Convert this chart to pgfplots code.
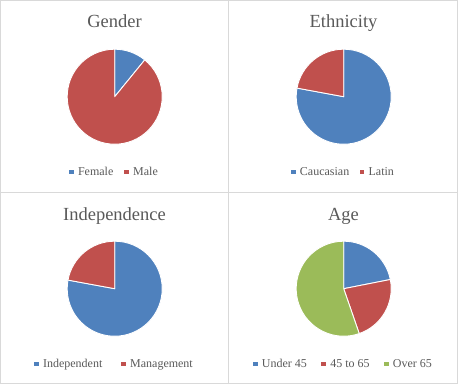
\documentclass[border=0pt]{standalone}
\usepackage{pgfplots}
\pgfplotsset{compat=1.18}
\usepackage{fontspec}
\setmainfont{Liberation Serif}
\definecolor{pieblue}{HTML}{4F81BD}
\definecolor{piered}{HTML}{C0504D}
\definecolor{piegreen}{HTML}{9BBB59}
\definecolor{txtgray}{HTML}{595959}
\definecolor{framegray}{HTML}{D9D9D9}
\def\pierad{47.5pt}
\pgfdeclareplotmark{wedge}{%
  \pgfmathsetmacro\sa{90-3.6*\slcum}%
  \pgfmathsetmacro\ea{90-3.6*(\slcum+\slpct)}%
  \pgfpathmoveto{\pgfpointorigin}%
  \pgfpathlineto{\pgfpointpolar{\sa}{\pierad}}%
  \pgfpatharc{\sa}{\ea}{\pierad}%
  \pgfpathclose
  \pgfusepathqfillstroke
}
\pgfplotsset{
  slice/.style={only marks, mark=wedge, draw=white, fill=#1, line width=0.9pt, line join=round,
    visualization depends on=value \thisrow{pct} \as \slpct,
    visualization depends on=value \thisrow{cum} \as \slcum,
    legend image code/.code={\fill[fill=#1, draw=none] (0pt,-2.3pt) rectangle (4.6pt,2.3pt); \path (6.4pt,0pt);}},
  pieaxis/.style={hide axis, x=1pt, y=1pt, anchor=south west, clip=false,
    xmin=-114.7, xmax=114.3, ymin=-95.3, ymax=96.7,
    legend columns=-1,
    legend style={at={(0.5,0.105)}, anchor=center, draw=none, fill=none,
      font=\fontsize{12}{14}\selectfont, text=txtgray,
      /tikz/every even column/.append style={column sep=#1}}},
}
\begin{document}
\begin{tikzpicture}
\path[use as bounding box] (0pt,0pt) rectangle (458pt,384pt);
% Gender
\begin{axis}[pieaxis=9pt, at={(0pt,192pt)}]
\addplot[slice=pieblue] table[x expr=0, y expr=0, row sep=\\]{pct cum\\ 10.9 0\\};
\addlegendentry{Female}
\addplot[slice=piered] table[x expr=0, y expr=0, row sep=\\]{pct cum\\ 89.1 10.9\\};
\addlegendentry{Male}
\end{axis}
% Ethnicity
\begin{axis}[pieaxis=8.5pt, at={(229pt,192pt)}]
\addplot[slice=pieblue] table[x expr=0, y expr=0, row sep=\\]{pct cum\\ 77.9 0\\};
\addlegendentry{Caucasian}
\addplot[slice=piered] table[x expr=0, y expr=0, row sep=\\]{pct cum\\ 22.1 77.9\\};
\addlegendentry{Latin}
\end{axis}
% Independence
\begin{axis}[pieaxis=17pt, at={(0pt,0pt)}]
\addplot[slice=pieblue] table[x expr=0, y expr=0, row sep=\\]{pct cum\\ 77.9 0\\};
\addlegendentry{Independent}
\addplot[slice=piered] table[x expr=0, y expr=0, row sep=\\]{pct cum\\ 22.1 77.9\\};
\addlegendentry{Management}
\end{axis}
% Age
\begin{axis}[pieaxis=12.5pt, at={(229pt,0pt)}]
\addplot[slice=pieblue] table[x expr=0, y expr=0, row sep=\\]{pct cum\\ 21.9 0\\};
\addlegendentry{Under 45}
\addplot[slice=piered] table[x expr=0, y expr=0, row sep=\\]{pct cum\\ 22.8 21.9\\};
\addlegendentry{45 to 65}
\addplot[slice=piegreen] table[x expr=0, y expr=0, row sep=\\]{pct cum\\ 55.3 44.7\\};
\addlegendentry{Over 65}
\end{axis}
% titles
\begin{scope}[every node/.style={anchor=base, font=\fontsize{18.5}{22}\selectfont, text=txtgray, inner sep=0pt}]
\node at (114.5pt,356pt) {Gender};
\node at (343.5pt,356pt) {Ethnicity};
\node at (114.5pt,164pt) {Independence};
\node at (343.5pt,164pt) {Age};
\end{scope}
% frames
\draw[framegray, line width=0.9pt] (0.45pt,0.45pt) rectangle (457.55pt,383.55pt);
\draw[framegray, line width=0.9pt] (228.8pt,0pt) -- (228.8pt,384pt);
\draw[framegray, line width=0.9pt] (0pt,192pt) -- (458pt,192pt);
\end{tikzpicture}
\end{document}
